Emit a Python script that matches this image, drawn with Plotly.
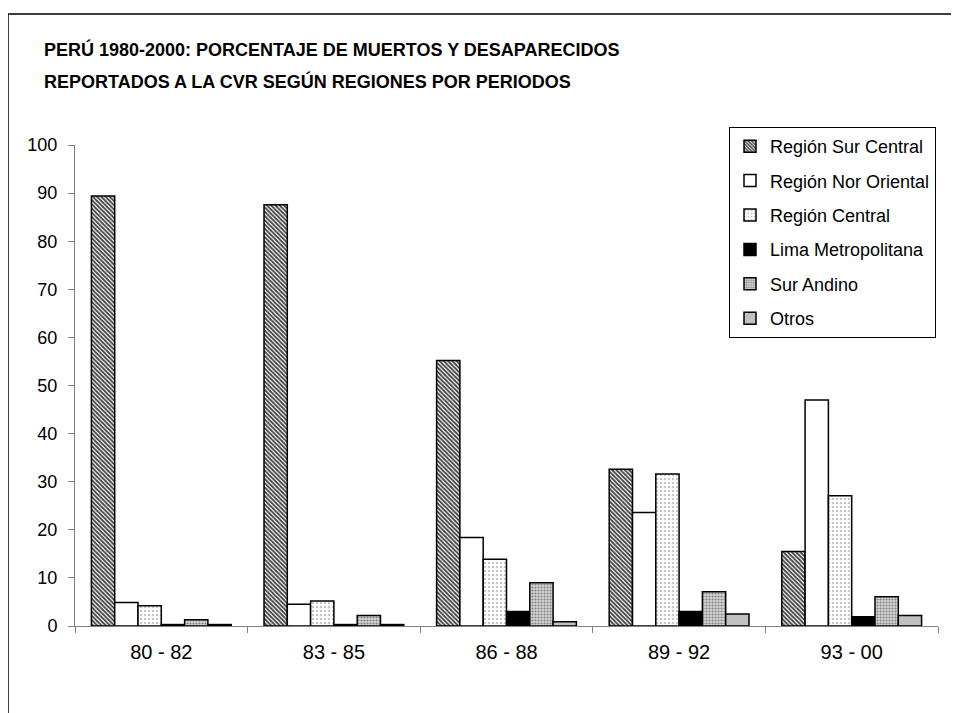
import plotly.graph_objects as go

periods = ["80 - 82", "83 - 85", "86 - 88", "89 - 92", "93 - 00"]
series_names = ["Región Sur Central", "Región Nor Oriental", "Región Central",
                "Lima Metropolitana", "Sur Andino", "Otros"]
sur_central = [89.4, 87.6, 55.2, 32.6, 15.5]
nor_oriental = [4.9, 4.5, 18.4, 23.6, 47.0]
central = [4.2, 5.2, 13.9, 31.6, 27.1]
lima = [0.3, 0.3, 3.0, 3.0, 1.9]
sur_andino = [1.3, 2.2, 9.0, 7.1, 6.1]
otros = [0.3, 0.3, 0.9, 2.5, 2.2]
values = [sur_central, nor_oriental, central, lima, sur_andino, otros]

styles = [
    dict(color="white", pattern=dict(shape="\\", fgcolor="#404040", bgcolor="white", size=3, solidity=0.6, fillmode="replace")),
    dict(color="white"),
    dict(color="white", pattern=dict(shape=".", fgcolor="#c8c8c8", bgcolor="white", size=4, solidity=0.3, fillmode="replace")),
    dict(color="black"),
    dict(color="white", pattern=dict(shape=".", fgcolor="#808080", bgcolor="#d8d8d8", size=3, solidity=0.4, fillmode="replace")),
    dict(color="#c0c0c0"),
]

fig = go.Figure()
for i, (name, vals) in enumerate(zip(series_names, values)):
    st = styles[i]
    marker = dict(color=st["color"], line=dict(color="black", width=1.5))
    if "pattern" in st:
        marker["pattern"] = st["pattern"]
    fig.add_trace(go.Bar(x=periods, y=vals, name=name, marker=marker,
                         legendgroup=f"g{i}"))

# The page places the figure 8px from the top-left corner of the window.
OFF = 8
W, H = 951, 705
L, R, T, B = 75 - OFF, 21, 145 - OFF, 87
pw, ph = W - L - R, H - T - B

def px_x(x):  # x in window pixels
    return (x - OFF - L) / pw

def px_y(y):  # y in window pixels
    return (H - B - (y - OFF)) / ph

fig.update_layout(
    width=W, height=H,
    margin=dict(l=L, r=R, t=T, b=B, autoexpand=False),
    paper_bgcolor="white", plot_bgcolor="white",
    font=dict(family="Liberation Sans, Arial, sans-serif", size=18, color="black"),
    barmode="group", bargap=0.19, bargroupgap=0,
    showlegend=True,
    legend=dict(x=px_x(729), y=px_y(127), xanchor="left", yanchor="top",
                bordercolor="black", borderwidth=1, bgcolor="white",
                font=dict(size=18), tracegroupgap=8, traceorder="grouped",
                itemwidth=30),
    xaxis=dict(showline=True, linecolor="#808080", linewidth=1,
               ticks="outside", tickson="boundaries", ticklen=6, tickcolor="#808080",
               showgrid=False, tickfont=dict(size=20), ticklabelstandoff=8),
    yaxis=dict(range=[0, 100], dtick=10, showline=True, linecolor="#808080", linewidth=1,
               ticks="outside", ticklen=6, tickcolor="#808080", showgrid=False,
               zeroline=False, tickfont=dict(size=18), ticklabelstandoff=7),
    shapes=[dict(type="rect", xref="paper", yref="paper",
                 x0=px_x(8), x1=px_x(975), y0=px_y(730), y1=px_y(14),
                 line=dict(color="black", width=1.5), fillcolor="rgba(0,0,0,0)", layer="below")],
    annotations=[
        dict(text="<b>PERÚ 1980-2000: PORCENTAJE DE MUERTOS Y DESAPARECIDOS</b>",
             xref="paper", yref="paper", x=px_x(42), y=px_y(50), xanchor="left", yanchor="middle",
             showarrow=False, font=dict(size=18)),
        dict(text="<b>REPORTADOS A LA CVR SEGÚN REGIONES POR PERIODOS</b>",
             xref="paper", yref="paper", x=px_x(42), y=px_y(82), xanchor="left", yanchor="middle",
             showarrow=False, font=dict(size=18)),
    ],
)

fig.write_html("out.html")
